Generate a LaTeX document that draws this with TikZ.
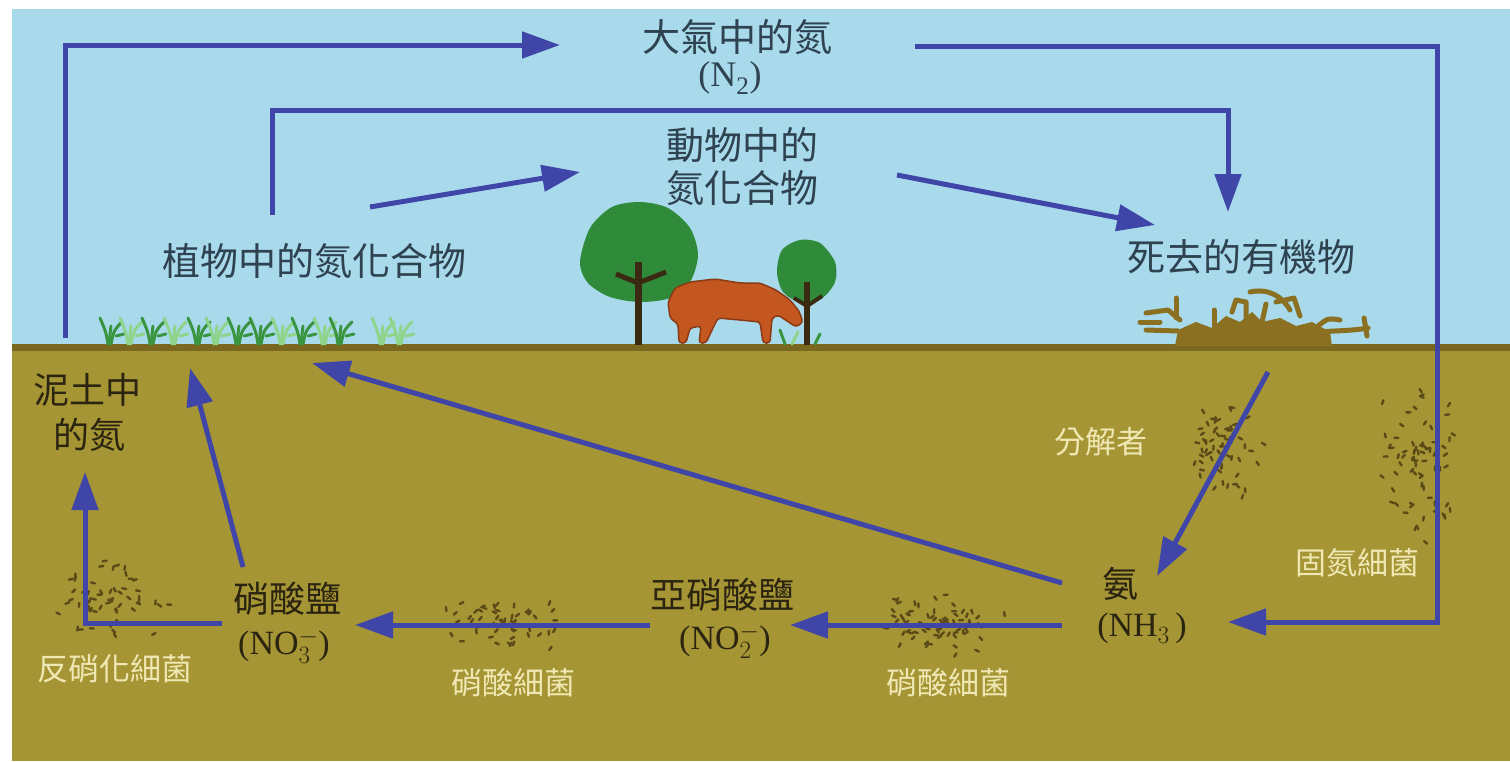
\documentclass[tikz,border=0pt]{standalone}
\usepackage{fontspec}
\setmainfont{Liberation Serif}
\newfontfamily\cjk{Noto Sans CJK TC}
\usetikzlibrary{arrows.meta}

\definecolor{sky}{HTML}{A8DAEC}
\definecolor{soil}{HTML}{A69534}
\definecolor{groundline}{HTML}{7A6820}
\definecolor{flowblue}{HTML}{3F46A8}
\definecolor{ink}{HTML}{2E4250}
\definecolor{soilink}{HTML}{2A2410}
\definecolor{pale}{HTML}{EFE8B4}
\definecolor{leaf}{HTML}{2F8A3A}
\definecolor{grassdark}{HTML}{3A9440}
\definecolor{grasslight}{HTML}{8ED48A}
\definecolor{trunk}{HTML}{3A2A12}
\definecolor{hide}{HTML}{C4561F}
\definecolor{hideedge}{HTML}{8A3A14}
\definecolor{litter}{HTML}{8A7020}
\definecolor{microbe}{HTML}{5A4A18}

% scattered short strokes standing for soil bacteria
\newcommand\microbecluster[5]{%
  \foreach \k in {1,...,#5}{%
    \pgfmathsetmacro\mx{#1+#3*(rnd+rnd-1)}%
    \pgfmathsetmacro\my{#2+#4*(rnd+rnd-1)}%
    \pgfmathsetmacro\ma{180*rnd}%
    \draw[microbestroke] (\mx,\my) -- ++(\ma:4);
  }}

\begin{document}
\begin{tikzpicture}[x=1pt,y=-1pt,
  flow/.style={line width=5pt, draw=flowblue, line join=miter,
    -{Triangle[length=38pt,width=26pt]}},
  skytext/.style={font=\cjk\fontsize{38}{42}\selectfont, text=ink, inner sep=0pt},
  skyformula/.style={font=\fontsize{36}{40}\selectfont, text=ink, inner sep=0pt},
  soiltext/.style={font=\cjk\fontsize{36}{40}\selectfont, text=soilink, inner sep=0pt},
  soilformula/.style={font=\fontsize{34}{38}\selectfont, text=soilink, inner sep=0pt},
  paletext/.style={font=\cjk\fontsize{31}{34}\selectfont, text=pale, inner sep=0pt},
  microbestroke/.style={draw=microbe, line width=2.4pt, line cap=round},
  blade/.style={line width=3pt, line cap=round},
  twig/.style={draw=litter, line width=5pt, line cap=round, line join=round}]

\useasboundingbox (0,0) rectangle (1510,761);
\fill[white] (0,0) rectangle (1510,761);

% sky, soil and the ground surface
\fill[sky] (12,9) rectangle (1510,348);
\fill[soil] (12,348) rectangle (1510,761);
\fill[groundline] (12,344) rectangle (1510,351);

% grass on the left
\foreach \gx/\c in {108/grassdark,128/grasslight,150/grassdark,172/grasslight,
                    196/grassdark,214/grasslight,236/grassdark,258/grassdark,
                    280/grasslight,300/grassdark,322/grasslight,338/grassdark,
                    380/grasslight,398/grasslight}{
  \draw[blade,\c] (\gx,344) .. controls (\gx-2,332) .. (\gx-8,318);
  \draw[blade,\c] (\gx+3,344) .. controls (\gx+6,330) .. (\gx+14,322);
  \draw[blade,\c] (\gx+1,344) -- (\gx+3,326);
  \draw[blade,\c] (\gx+8,336) -- (\gx+16,334);
}

% trees
\fill[leaf] plot[smooth cycle] coordinates {(580,262) (590,228) (612,207) (640,202)
  (668,208) (690,228) (698,255) (690,282) (670,298) (640,302) (610,297) (588,283)};
\draw[trunk, line width=7pt] (638,262) -- (638,345);
\draw[trunk, line width=5pt, line join=round] (616,274) -- (638,283) -- (666,272);
\fill[leaf] plot[smooth cycle] coordinates {(777,272) (782,250) (800,240) (820,243)
  (835,262) (835,282) (822,298) (800,302) (783,292)};
\draw[trunk, line width=6pt] (807,282) -- (807,345);
\draw[trunk, line width=4pt, line join=round] (794,298) -- (807,306) -- (822,296);
\draw[blade,grassdark] (785,344) -- (780,330);
\draw[blade,grasslight] (792,344) -- (798,332);
\draw[blade,grassdark] (815,344) -- (820,334);

% grazing animal
\filldraw[fill=hide, draw=hideedge, line width=1.5pt, rounded corners=3pt]
  (668,302) -- (675,288) -- (690,282) -- (715,279) -- (740,283) -- (760,283)
  -- (776,290) -- (790,300) -- (799,311) -- (803,322) -- (796,327) -- (787,321)
  -- (778,315) -- (772,318) -- (770,343) -- (763,343) -- (760,322) -- (740,320)
  -- (718,318) -- (712,330) -- (706,343) -- (699,343) -- (701,326) -- (690,328)
  -- (686,343) -- (679,343) -- (678,324) -- (670,318) -- cycle;

% dead organic matter
\fill[litter] (1175,346) -- (1178,330) -- (1196,322) -- (1212,328) -- (1226,316)
  -- (1240,322) -- (1252,312) -- (1262,322) -- (1280,318) -- (1296,326)
  -- (1312,322) -- (1330,332) -- (1332,346) -- cycle;
\draw[twig] (1146,313) -- (1168,310) -- (1180,320);
\draw[twig] (1146,330) -- (1178,331);
\draw[twig] (1140,322) -- (1160,322);
\draw[twig] (1176,298) -- (1176,318);
\draw[twig] (1214,310) -- (1214,330);
\draw[twig] (1250,292) .. controls (1268,288) and (1282,296) .. (1290,310);
\draw[twig] (1276,302) -- (1294,298) -- (1300,316);
\draw[twig] (1262,322) -- (1266,304);
\draw[twig] (1232,312) -- (1236,300) -- (1246,302) -- (1246,318);
\draw[twig] (1300,334) .. controls (1325,330) and (1345,332) .. (1368,328);
\draw[twig] (1318,326) .. controls (1328,318) .. (1340,320);
\draw[twig] (1364,318) -- (1367,336);

% soil bacteria
\pgfmathsetseed{11}
\microbecluster{1225}{448}{40}{62}{60}
\microbecluster{1420}{468}{45}{80}{70}
\microbecluster{112}{600}{62}{45}{55}
\microbecluster{500}{622}{62}{30}{55}
\microbecluster{935}{622}{72}{32}{70}

% labels
\node[skytext] (air) at (737,37) {大氣中的氮};
\node[skyformula] (airf) at (730,78) {(N\textsubscript{2})};
\node[skytext] (animal1) at (742,145) {動物中的};
\node[skytext] (animal2) at (742,188) {氮化合物};
\node[skytext] (plant) at (314,261) {植物中的氮化合物};
\node[skytext] (dead) at (1241,257) {死去的有機物};
\node[soiltext] (soilN1) at (88,390) {泥土中};
\node[soiltext] (soilN2) at (89,435) {的氮};
\node[soiltext] (nitrate) at (287,599) {硝酸鹽};
\node[soilformula] (nitratef) at (284,646) {(NO$_3^{-}$)};
\node[soiltext] (nitrite) at (722,595) {亞硝酸鹽};
\node[soilformula] (nitritef) at (725,641) {(NO$_2^{-}$)};
\node[soiltext] (ammonia) at (1120,584) {氨};
\node[soilformula] (ammoniaf) at (1142,628) {(NH$_3$\,)};
\node[paletext] (decomp) at (1101,442) {分解者};
\node[paletext] (fixers) at (1357,563) {固氮細菌};
\node[paletext] (denitr) at (115,669) {反硝化細菌};
\node[paletext] (nitrob1) at (513,683) {硝酸細菌};
\node[paletext] (nitrob2) at (948,683) {硝酸細菌};

% connector end points
\coordinate (soilup) at (65,338);
\coordinate (intoair) at (560,45);
\coordinate (outofair) at (915,46);
\coordinate (fixcorner) at (1437,622);
\coordinate (fixend) at (1228,622);
\coordinate (plantup) at (272,215);
\coordinate (eatcorner) at (1228,110);
\coordinate (dieend) at (1228,212);
\coordinate (eatstart) at (370,207);
\coordinate (eatend) at (580,172);
\coordinate (wastestart) at (897,175);
\coordinate (wasteend) at (1155,225);
\coordinate (rotstart) at (1268,372);
\coordinate (rotend) at (1157,576);
\coordinate (nh3left) at (1062,625);
\coordinate (no2right) at (790,625);
\coordinate (no2left) at (650,625);
\coordinate (no3right) at (355,625);
\coordinate (no3up) at (243,567);
\coordinate (rootsA) at (190,368);
\coordinate (no3left) at (222,623);
\coordinate (soilNend) at (85,472);
\coordinate (nh3up) at (1062,583);
\coordinate (rootsB) at (312,363);

% nitrogen flows
\draw[flow] (soilup) |- (intoair);
\draw[flow] (outofair) -| (fixcorner) -- (fixend);
\draw[flow] (plantup) |- (eatcorner) -- (dieend);
\draw[flow] (eatstart) -- (eatend);
\draw[flow] (wastestart) -- (wasteend);
\draw[flow] (rotstart) -- (rotend);
\draw[flow] (nh3left) -- (no2right);
\draw[flow] (no2left) -- (no3right);
\draw[flow] (no3up) -- (rootsA);
\draw[flow] (no3left) -| (soilNend);
\draw[flow] (nh3up) -- (rootsB);

\end{tikzpicture}
\end{document}
